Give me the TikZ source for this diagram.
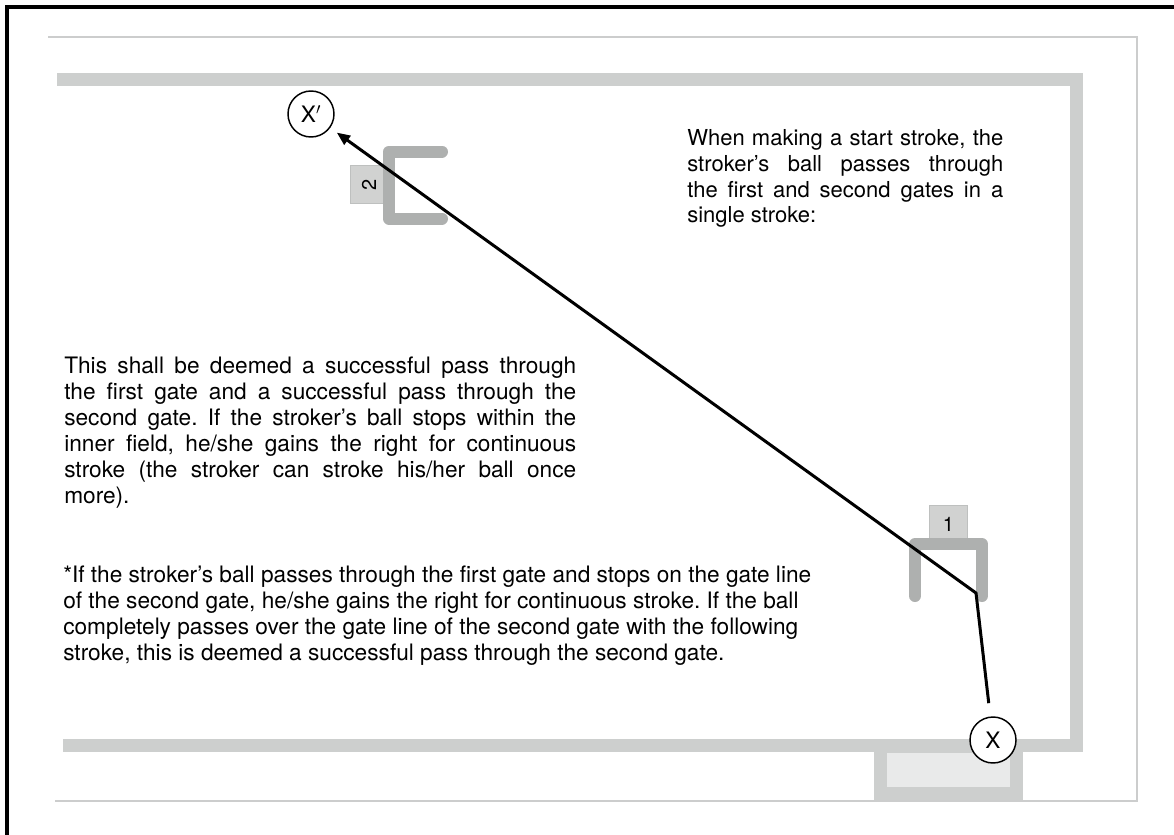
\documentclass[tikz,border=0pt]{standalone}
\usepackage{fontspec}
\setmainfont{TeX Gyre Heros}
\usetikzlibrary{positioning,arrows.meta}
\definecolor{bandgray}{RGB}{205,207,206}
\definecolor{linegray}{RGB}{204,205,205}
\definecolor{gategray}{RGB}{174,176,175}
\definecolor{labelgray}{RGB}{209,210,209}
\definecolor{padgray}{RGB}{233,234,234}
\frenchspacing

\begin{document}
\begin{tikzpicture}[
    x=0.75pt,y=-0.75pt,
    band/.style={draw=bandgray,line width=9.75pt},
    thinline/.style={draw=linegray,line width=1.9pt},
    gate/.style={draw=gategray,line width=9pt,line cap=round,line join=round},
    gatelabel/.style={rectangle,draw=gategray!80,fill=labelgray,line width=0.6pt,minimum width=29pt,minimum height=28pt,inner sep=0pt,font=\fontsize{15}{18}\selectfont},
    ball/.style={circle,draw,fill=white,line width=1.1pt,minimum size=34.5pt,inner sep=0pt,font=\fontsize{17}{20}\selectfont},
    rule/.style={align=justify,anchor=north west,inner sep=0pt,font=\fontsize{16.5}{19.4}\selectfont},
    bigrule/.style={rule,font=\fontsize{17}{19.4}\selectfont},
    arrow/.style={-{Triangle[length=10pt,width=8pt]},line width=2.25pt,shorten <=10pt,shorten >=6pt}
  ]
    \useasboundingbox (0,0) rectangle (1174,835);
    % frame and field
    \draw[line width=3pt] (7,835) -- (7,7) -- (1174,7);
    \draw[thinline] (48,37) -- (1137,37) -- (1137,801) -- (55,801);
    \draw[band] (57,79.5) -- (1076.5,79.5) -- (1076.5,745.5) -- (63,745.5);
    \draw[band,fill=padgray] (880.5,746.5) rectangle (1016.5,793.5);

    % gates
    \node[gatelabel] (one) at (948.5,524.5) {1};
    \draw[gate] (915,596) -- (915,544) -- (982,544) -- (982,596);
    \node[gatelabel,rotate=90] (two) at (369,184.5) {2};
    \draw[gate] (442,151.5) -- (389,151.5) -- (389,218.5) -- (442,218.5);

    % balls and stroke
    \node[ball] (X) at (993,740) {X};
    \node[ball] (Xp) at (311,114) {X$'$};
    \coordinate (turn) at (976,593);
    \draw[arrow] (X) -- (turn) -- (Xp);

    % texts
    \node[rule,text width=237pt] (intro) at (687,129) {When making a start stroke, the\linebreak stroker’s ball passes through\linebreak the first and second gates in a\linebreak single stroke:};
    \node[bigrule,text width=384pt] (deemed) at (64,357) {This shall be deemed a successful pass through\linebreak the first gate and a successful pass through the\linebreak second gate. If the stroker’s ball stops within the\linebreak inner field, he/she gains the right for continuous\linebreak stroke (the stroker can stroke his/her ball once\linebreak more).};
    \node[bigrule,align=left] (note) at (63,566) {*If the stroker’s ball passes through the first gate and stops on the gate line\\of the second gate, he/she gains the right for continuous stroke. If the ball\\completely passes over the gate line of the second gate with the following\\stroke, this is deemed a successful pass through the second gate.};
  \end{tikzpicture}
\end{document}
